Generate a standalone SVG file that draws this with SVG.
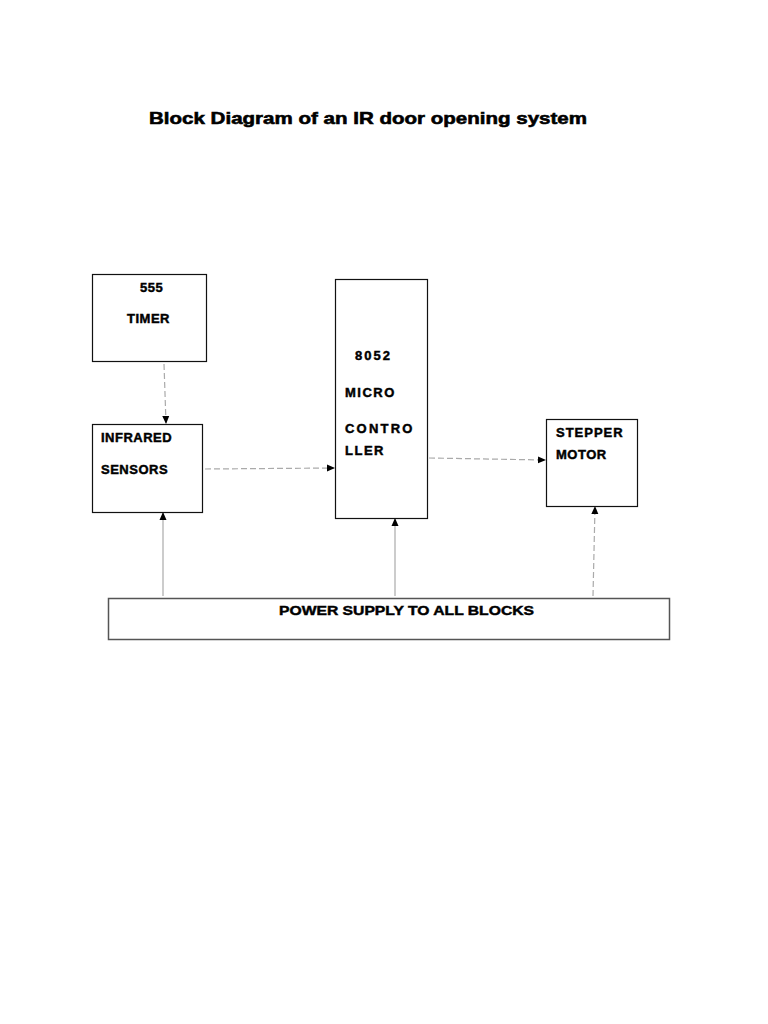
<svg xmlns="http://www.w3.org/2000/svg" width="768" height="1024" viewBox="0 0 768 1024">
<style>
.box{fill:#fff;stroke:#111;stroke-width:1.2}
.lbl{font-family:"Liberation Sans",Arial,sans-serif;font-weight:bold;font-size:13px;fill:#000;stroke:#000;stroke-width:0.45}
.con{fill:none;stroke:#aaa;stroke-width:1.2}
.dash{stroke-dasharray:6 3}
</style>
<defs>
<marker id="ah" markerWidth="8" markerHeight="8" refX="7" refY="4" orient="auto" markerUnits="userSpaceOnUse">
<path d="M0,0.5 L8,4 L0,7.5 Z" fill="#000"/>
</marker>
</defs>
<rect width="768" height="1024" fill="#fff"/>
<text x="149" y="124" font-family="'Liberation Sans',Arial,sans-serif" font-weight="bold" font-size="17" stroke="#000" stroke-width="0.6" textLength="438" lengthAdjust="spacingAndGlyphs">Block Diagram of an IR door opening system</text>
<g id="connectors">
<line class="con dash" x1="164" y1="364" x2="166" y2="423" marker-end="url(#ah)"/>
<line class="con dash" x1="205" y1="469" x2="334" y2="468" marker-end="url(#ah)"/>
<line class="con dash" x1="429" y1="458" x2="545" y2="460" marker-end="url(#ah)"/>
<line class="con" x1="163" y1="596" x2="163" y2="513" marker-end="url(#ah)"/>
<line class="con" x1="395" y1="596" x2="395" y2="519" marker-end="url(#ah)"/>
<line class="con dash" x1="593" y1="596" x2="595" y2="507" marker-end="url(#ah)"/>
</g>
<g id="timer">
<rect class="box" x="92.5" y="274.5" width="114" height="87"/>
<text class="lbl" x="140" y="292" letter-spacing="0.5">555</text>
<text class="lbl" x="127" y="323" letter-spacing="0.5">TIMER</text>
</g>
<g id="infrared">
<rect class="box" x="92.5" y="424.5" width="110" height="88"/>
<text class="lbl" x="101" y="442" letter-spacing="0.5">INFRARED</text>
<text class="lbl" x="101" y="474" letter-spacing="0.5">SENSORS</text>
</g>
<g id="micro">
<rect class="box" x="335.5" y="279.5" width="92" height="239"/>
<text class="lbl" x="355" y="360" letter-spacing="2">8052</text>
<text class="lbl" x="345" y="397" letter-spacing="1.5">MICRO</text>
<text class="lbl" x="345" y="433" letter-spacing="2.2">CONTRO</text>
<text class="lbl" x="345" y="455" letter-spacing="1.5">LLER</text>
</g>
<g id="stepper">
<rect class="box" x="546.5" y="419.5" width="91" height="87"/>
<text class="lbl" x="556" y="437" letter-spacing="1">STEPPER</text>
<text class="lbl" x="556" y="459" letter-spacing="0.5">MOTOR</text>
</g>
<g id="power">
<rect class="box" x="108.5" y="598.5" width="561" height="41" style="stroke:#555;stroke-width:1.5"/>
<text class="lbl" x="279" y="615" textLength="255" lengthAdjust="spacingAndGlyphs">POWER SUPPLY TO ALL BLOCKS</text>
</g>
</svg>
